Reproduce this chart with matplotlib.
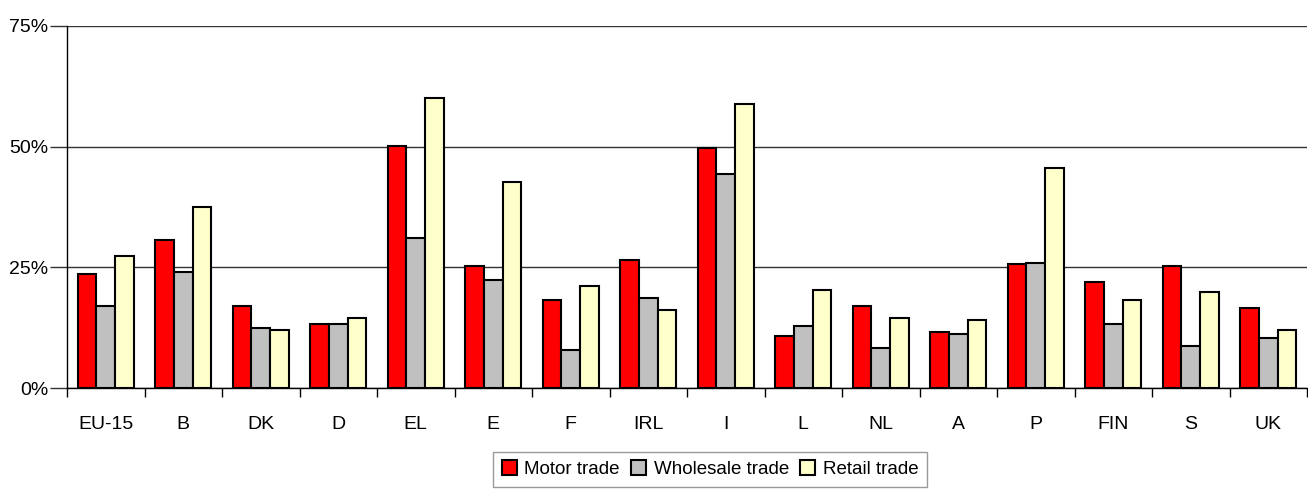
import matplotlib
matplotlib.use("Agg")
import matplotlib.pyplot as plt
import numpy as np
from matplotlib.ticker import FixedLocator, PercentFormatter

plt.rcParams['font.family'] = ['Liberation Sans', 'DejaVu Sans']

categories = ["EU-15", "B", "DK", "D", "EL", "E", "F", "IRL", "I", "L", "NL", "A", "P", "FIN", "S", "UK"]
motor = [23.6, 30.7, 17.0, 13.3, 50.1, 25.3, 18.2, 26.5, 49.7, 10.7, 17.0, 11.6, 25.7, 22.0, 25.3, 16.6]
wholesale = [17.0, 24.0, 12.4, 13.3, 31.0, 22.3, 7.9, 18.6, 44.3, 12.8, 8.3, 11.2, 26.0, 13.3, 8.7, 10.4]
retail = [27.3, 37.6, 12.0, 14.4, 60.0, 42.6, 21.1, 16.1, 58.8, 20.3, 14.4, 14.1, 45.6, 18.2, 19.9, 12.0]
series_names = ["Motor trade", "Wholesale trade", "Retail trade"]
colors = ["#FF0000", "#C0C0C0", "#FFFFCC"]
yticks = [0, 25, 50, 75]

W, H = 1308, 490
fig = plt.figure(figsize=(W / 100, H / 100), dpi=100)
ax = fig.add_axes([67 / W, 102 / H, 1240 / W, 362 / H])

n = len(categories)
x = np.arange(n)
bw = 0.24
for i, (vals, name, c) in enumerate(zip([motor, wholesale, retail], series_names, colors)):
    ax.bar(x + (i - 1) * bw, vals, width=bw, color=c, edgecolor="black",
           linewidth=1.5, label=name, zorder=3)

ax.set_xlim(-0.5, n - 0.5)
ax.set_ylim(0, 75)
ax.set_yticks(yticks)
ax.yaxis.set_major_formatter(PercentFormatter(decimals=0))
ax.grid(axis="y", color="#333333", linewidth=1.0, zorder=0)
ax.set_axisbelow(True)

ax.set_xticks(x)
ax.set_xticklabels(categories)
ax.xaxis.set_minor_locator(FixedLocator(np.arange(-0.5, n, 1.0)))
ax.tick_params(axis="x", which="major", length=0, pad=20, labelsize=14)
ax.tick_params(axis="x", which="minor", length=6.5, width=1.0, color="black", direction="out")
ax.tick_params(axis="y", which="major", length=12, width=1.0, color="#333333", pad=1.5, labelsize=14)

for s in ["top", "right"]:
    ax.spines[s].set_visible(False)
ax.spines["left"].set_color("black")
ax.spines["left"].set_linewidth(1.0)
ax.spines["left"].set_bounds(0, 75)
ax.spines["bottom"].set_color("black")
ax.spines["bottom"].set_linewidth(1.0)

leg = fig.legend(loc="upper center", bbox_to_anchor=(710 / W, 1 - 452 / H), ncol=3,
                 fontsize=13.5, frameon=True, fancybox=False, edgecolor="#808080",
                 handlelength=0.8, handleheight=0.8, handletextpad=0.4, columnspacing=0.6,
                 borderpad=0.45, borderaxespad=0)
leg.get_frame().set_linewidth(1.0)

fig.savefig("out.png", dpi=100)
